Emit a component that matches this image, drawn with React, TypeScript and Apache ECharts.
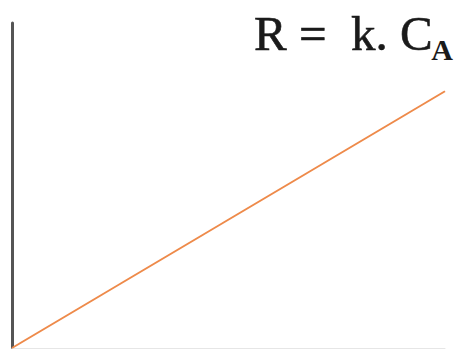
import React, { useEffect, useRef } from "react";
import * as echarts from "echarts";

const xValues = [0, 1];
const yValues = [0, 0.79];
const titleMain = "R =  k. C";
const titleSub = "A";

export default function App() {
  const ref = useRef<HTMLDivElement>(null);
  useEffect(() => {
    if (!ref.current) return;
    const chart = echarts.init(ref.current, null, { renderer: "svg" });
    chart.setOption({
      animation: false,
      backgroundColor: "#ffffff",
      grid: { left: 12, right: 14, top: 23, bottom: 1 },
      xAxis: {
        type: "value",
        min: 0,
        max: 1,
        axisLine: { show: true, lineStyle: { color: "#e6e6e6", width: 1 } },
        axisTick: { show: false },
        axisLabel: { show: false },
        splitLine: { show: false },
      },
      yAxis: {
        type: "value",
        min: 0,
        max: 1,
        axisLine: { show: true, lineStyle: { color: "#555555", width: 3 } },
        axisTick: { show: false },
        axisLabel: { show: false },
        splitLine: { show: false },
      },
      series: [
        {
          type: "line",
          data: xValues.map((x, i) => [x, yValues[i]]),
          showSymbol: false,
          lineStyle: { color: "#EE8A4A", width: 2 },
        },
      ],
      graphic: [
        {
          type: "text",
          right: 26,
          top: 9,
          style: {
            text: titleMain,
            font: "49px 'Liberation Serif'",
            fill: "#1a1a1a",
            stroke: "#1a1a1a",
            lineWidth: 0.6,
          },
        },
        {
          type: "text",
          right: 6,
          top: 34,
          style: {
            text: titleSub,
            font: "bold 30px 'Liberation Serif'",
            fill: "#1a1a1a",
          },
        },
      ],
    });
    return () => chart.dispose();
  }, []);
  return (
    <div
      ref={ref}
      style={{ position: "fixed", left: 0, top: 0, width: 459, height: 349 }}
    />
  );
}
